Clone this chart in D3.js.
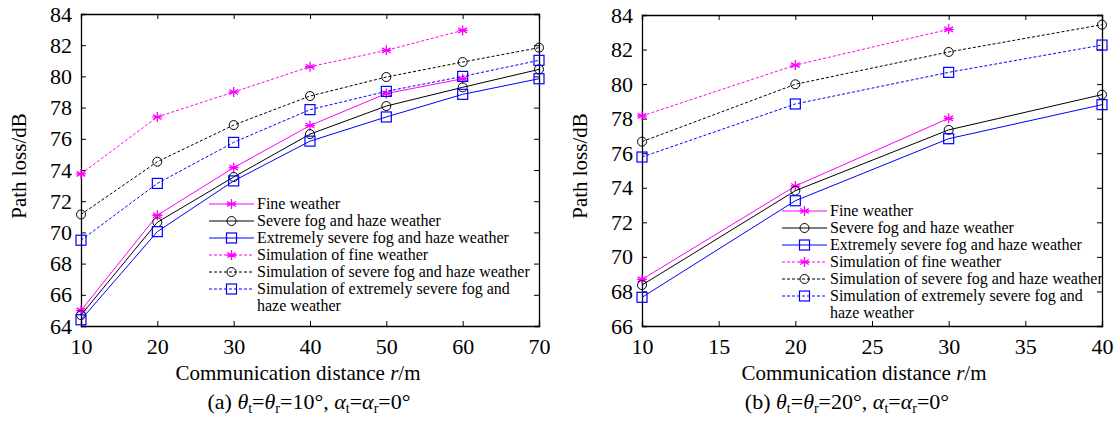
<!DOCTYPE html>
<html><head><meta charset="utf-8">
<style>
body { margin: 0; background: white; }
text { font-family: "Liberation Serif", "Times New Roman", Tinos, "DejaVu Serif", serif; }
</style>
</head>
<body>
<svg id="chart" width="1114" height="421"></svg>
<script src="https://d3js.org/d3.v7.min.js"></script>
<script>
// panel (a)
const distA = [10, 20, 30, 40, 50, 60, 70];
const fineA = [65.0, 71.1, 74.15, 76.85, 78.9, 79.85];
const severeA = [64.7, 70.65, 73.55, 76.3, 78.1, 79.3, 80.45];
const extremeA = [64.4, 70.05, 73.3, 75.85, 77.4, 78.85, 79.85];
const simFineA = [73.75, 77.4, 79.0, 80.62, 81.67, 82.95];
const simSevereA = [71.15, 74.53, 76.88, 78.74, 79.96, 80.92, 81.84];
const simExtremeA = [69.5, 73.14, 75.77, 77.87, 79.04, 80.0, 81.03];
const xTicksA = [10, 20, 30, 40, 50, 60, 70];
const yTicksA = [64, 66, 68, 70, 72, 74, 76, 78, 80, 82, 84];

// panel (b)
const distB = [10, 20, 30, 40];
const fineB = [68.7, 74.1, 78.02];
const severeB = [68.37, 73.83, 77.35, 79.39];
const extremeB = [67.66, 73.25, 76.84, 78.81];
const simFineB = [78.16, 81.1, 83.17];
const simSevereB = [76.67, 79.99, 81.86, 83.44];
const simExtremeB = [75.78, 78.85, 80.68, 82.26];
const xTicksB = [10, 15, 20, 25, 30, 35, 40];
const yTicksB = [66, 68, 70, 72, 74, 76, 78, 80, 82, 84];

const seriesNames = [
  ["Fine weather"],
  ["Severe fog and haze weather"],
  ["Extremely severe fog and haze weather"],
  ["Simulation of fine weather"],
  ["Simulation of severe fog and haze weather"],
  ["Simulation of extremely severe fog and", "haze weather"]
];
const seriesColors = ["#ff00ff", "#000000", "#0000ff", "#ff00ff", "#000000", "#0000ff"];
const seriesMarkers = ["star", "circle", "square", "star", "circle", "square"];
const seriesDashed = [false, false, false, true, true, true];

const FONT = '"Liberation Serif", "Times New Roman", Tinos, "DejaVu Serif", serif';
const svg = d3.select("#chart").attr("font-family", FONT);

function marker(g, type, x, y, color) {
  if (type === "circle") {
    g.append("circle").attr("cx", x).attr("cy", y).attr("r", 4.5)
      .attr("fill", "none").attr("stroke", color).attr("stroke-width", 1);
  } else if (type === "square") {
    g.append("rect").attr("x", x - 5).attr("y", y - 5).attr("width", 10).attr("height", 10)
      .attr("fill", "none").attr("stroke", color).attr("stroke-width", 1.2);
  } else {
    const r = 5;
    const path = d3.path();
    for (let k = 0; k < 3; k++) {
      const a = Math.PI / 2 + k * Math.PI / 3;
      path.moveTo(x + r * Math.cos(a), y + r * Math.sin(a));
      path.lineTo(x - r * Math.cos(a), y - r * Math.sin(a));
    }
    path.moveTo(x - r, y); path.lineTo(x + r, y);
    g.append("path").attr("d", path.toString()).attr("stroke", color).attr("stroke-width", 1.3);
  }
}

function drawPanel(p) {
  const x = d3.scaleLinear().domain(p.xDomain).range([p.left, p.right]);
  const y = d3.scaleLinear().domain(p.yDomain).range([p.bottom, p.top]);
  const g = svg.append("g");

  // axes, ticks inward on all sides
  g.append("g").attr("transform", `translate(0,${p.bottom})`)
    .call(d3.axisBottom(x).tickValues(p.xTicks).tickSize(-5).tickPadding(12).tickFormat(d3.format("d")));
  g.append("g").attr("transform", `translate(0,${p.top})`)
    .call(d3.axisTop(x).tickValues(p.xTicks).tickSize(-5).tickFormat(""));
  g.append("g").attr("transform", `translate(${p.left},0)`)
    .call(d3.axisLeft(y).tickValues(p.yTicks).tickSize(-5).tickPadding(9).tickFormat(d3.format("d")));
  g.append("g").attr("transform", `translate(${p.right},0)`)
    .call(d3.axisRight(y).tickValues(p.yTicks).tickSize(-5).tickFormat(""));
  g.selectAll("g").attr("font-family", FONT);
  g.selectAll(".domain").attr("stroke", "#000").attr("stroke-width", 1.3);
  g.selectAll(".tick line").attr("stroke", "#000");
  g.selectAll(".tick text").attr("font-size", 22).attr("fill", "#000");

  // series
  p.series.forEach((vals, i) => {
    const pts = vals.map((v, j) => [x(p.dist[j]), y(v)]);
    g.append("path").attr("d", d3.line()(pts)).attr("fill", "none")
      .attr("stroke", seriesColors[i]).attr("stroke-width", 1)
      .attr("stroke-dasharray", seriesDashed[i] ? "3,2" : null);
    pts.forEach(pt => marker(g, seriesMarkers[i], pt[0], pt[1], seriesColors[i]));
  });

  // legend
  let row = 0;
  seriesNames.forEach((lines, i) => {
    const ly = p.legendY + row * 17;
    g.append("line").attr("x1", p.legendX).attr("x2", p.legendX + 45)
      .attr("y1", ly).attr("y2", ly).attr("stroke", seriesColors[i]).attr("stroke-width", 1)
      .attr("stroke-dasharray", seriesDashed[i] ? "3,2" : null);
    marker(g, seriesMarkers[i], p.legendX + 22.5, ly, seriesColors[i]);
    lines.forEach((t, k) => {
      g.append("text").attr("x", p.legendX + 48).attr("y", ly + 5 + k * 17)
        .attr("font-size", 16).text(t);
    });
    row += lines.length;
  });

  // axis titles
  const xt = g.append("text").attr("x", p.titleX).attr("y", 380)
    .attr("text-anchor", "middle").attr("font-size", 21);
  xt.append("tspan").text("Communication distance ");
  xt.append("tspan").attr("font-style", "italic").text("r");
  xt.append("tspan").text("/m");

  g.append("text").attr("transform", `translate(${p.left - 55},166) rotate(-90)`)
    .attr("text-anchor", "middle").attr("font-size", 21).text("Path loss/dB");

  // caption
  const c = g.append("text").attr("x", p.captionX).attr("y", 409)
    .attr("text-anchor", "middle").attr("font-size", 22);
  const sub = (t) => c.append("tspan").attr("font-size", 14).attr("dy", 4).text(t);
  c.append("tspan").text(`(${p.label}) `);
  c.append("tspan").attr("font-style", "italic").text("θ");
  sub("t");
  c.append("tspan").attr("dy", -4).text("=");
  c.append("tspan").attr("font-style", "italic").text("θ");
  sub("r");
  c.append("tspan").attr("dy", -4).text(`=${p.angle}°, `);
  c.append("tspan").attr("font-style", "italic").text("α");
  sub("t");
  c.append("tspan").attr("dy", -4).text("=");
  c.append("tspan").attr("font-style", "italic").text("α");
  sub("r");
  c.append("tspan").attr("dy", -4).text("=0°");
}

drawPanel({
  label: "a", angle: 10,
  left: 81, right: 539, top: 14, bottom: 326,
  xDomain: [10, 70], yDomain: [64, 84], xTicks: xTicksA, yTicks: yTicksA,
  dist: distA,
  series: [fineA, severeA, extremeA, simFineA, simSevereA, simExtremeA],
  legendX: 209, legendY: 204, titleX: 298, captionX: 309
});

drawPanel({
  label: "b", angle: 20,
  left: 642, right: 1102, top: 15, bottom: 326,
  xDomain: [10, 40], yDomain: [66, 84], xTicks: xTicksB, yTicks: yTicksB,
  dist: distB,
  series: [fineB, severeB, extremeB, simFineB, simSevereB, simExtremeB],
  legendX: 782, legendY: 211, titleX: 864, captionX: 847
});
</script>
</body>
</html>
